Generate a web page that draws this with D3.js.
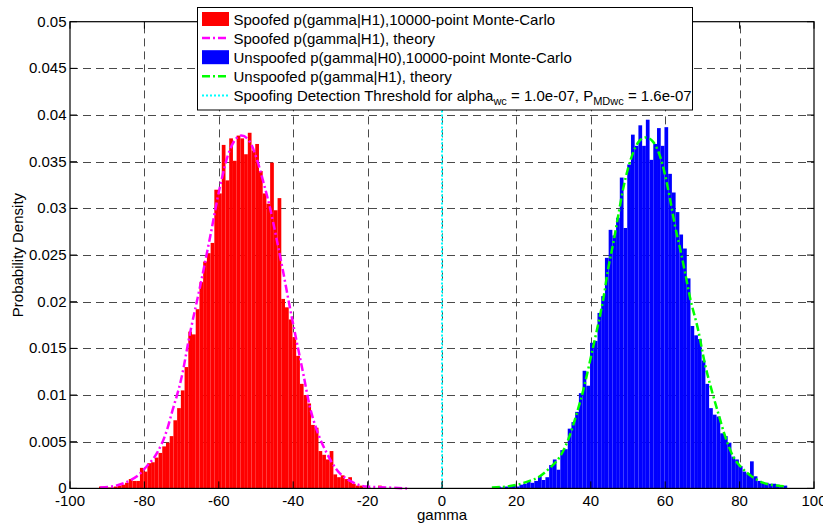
<!DOCTYPE html>
<html>
<head>
<meta charset="utf-8">
<script src="https://cdn.jsdelivr.net/npm/d3@7/dist/d3.min.js"></script>
<style>
  body { margin: 0; background: #fff; }
  text { font-family: "Liberation Sans", Arial, Helvetica, sans-serif; }
</style>
</head>
<body>
<svg id="chart" width="823" height="525"></svg>
<script>
// ---- data ----
const xTicks = [-100, -80, -60, -40, -20, 0, 20, 40, 60, 80, 100];
const xTickLabels = ["-100", "-80", "-60", "-40", "-20", "0", "20", "40", "60", "80", "100"];
const yTicks = [0, 0.005, 0.01, 0.015, 0.02, 0.025, 0.03, 0.035, 0.04, 0.045, 0.05];
const yTickLabels = ["0", "0.005", "0.01", "0.015", "0.02", "0.025", "0.03", "0.035", "0.04", "0.045", "0.05"];

const binWidth = 1;

// spoofed (H1) Monte-Carlo histogram, bins of width 1 starting at spoofedStart
const spoofedStart = -92.2;
const spoofedHist = [
  0.0002, 0.0002, 0.0001, 0.0001, 0.0002, 0.0003, 0.0004, 0.0006, 0.0010, 0.0008,
  0.0008, 0.0022, 0.0018, 0.0027, 0.0028, 0.0033, 0.0038, 0.0045, 0.0049, 0.0056,
  0.0073, 0.0086, 0.0105, 0.0130, 0.0168, 0.0165, 0.0192, 0.0221, 0.0243, 0.0252,
  0.0263, 0.0320, 0.0316, 0.0368, 0.0330, 0.0375, 0.0351, 0.0378, 0.0375, 0.0358,
  0.0381, 0.0362, 0.0369, 0.0340, 0.0316, 0.0305, 0.0349, 0.0298, 0.0311, 0.0203,
  0.0194, 0.0181, 0.0162, 0.0142, 0.0112, 0.0100, 0.0091, 0.0068, 0.0065, 0.0040,
  0.0036, 0.0031, 0.0040, 0.0015, 0.0012, 0.0014, 0.0010, 0.0012, 0.0005, 0.0003,
  0.0003, 0.0001, 0.0001, 0, 0, 0.0003
];

// unspoofed (H0) Monte-Carlo histogram
const unspoofedStart = 13.8;
const unspoofedHist = [
  0.0001, 0.0002, 0.0001, 0.0002, 0.0002, 0.0003, 0.0002, 0.0004, 0.0005, 0.0007,
  0.0006, 0.0008, 0.0013, 0.0009, 0.0012, 0.0025, 0.0031, 0.0020, 0.0041, 0.0042,
  0.0064, 0.0071, 0.0082, 0.0102, 0.0126, 0.0110, 0.0156, 0.0158, 0.0188, 0.0206,
  0.0247, 0.0277, 0.0271, 0.0290, 0.0333, 0.0279, 0.0347, 0.0379, 0.0367, 0.0389,
  0.0367, 0.0395, 0.0352, 0.0369, 0.0386, 0.0367, 0.0387, 0.0337, 0.0317, 0.0296,
  0.0272, 0.0257, 0.0225, 0.0174, 0.0164, 0.0160, 0.0137, 0.0112, 0.0086, 0.0079,
  0.0077, 0.0059, 0.0056, 0.0049, 0.0034, 0.0031, 0.0024, 0.0018, 0.0016, 0.0029,
  0.0013, 0.0008, 0.0006, 0.0006, 0.0005, 0.0005, 0.0004, 0.0003, 0.0003
];

// theory curves
const spoofedTheoryX = [-91.9, -88.2, -84.7, -82.0, -79.3, -76.6, -73.9, -72.7, -70.0, -67.8,
  -65.1, -62.4, -59.7, -57.0, -53.9, -51.6, -49.8, -48.0, -46.2, -44.5, -42.7, -40.9,
  -39.1, -37.3, -35.5, -33.7, -31.0, -28.3, -24.7, -20.2, -14.8, -9.4];
const spoofedTheoryY = [0.0001, 0.00025, 0.0007, 0.0013, 0.0024, 0.0038, 0.0063, 0.0080, 0.0119, 0.0165,
  0.0215, 0.0268, 0.0323, 0.0363, 0.0378, 0.0371, 0.0353, 0.0328, 0.0300, 0.0268, 0.0232, 0.0194,
  0.0158, 0.0123, 0.0087, 0.0063, 0.0038, 0.0020, 0.0008, 0.0002, 0.0001, 0.0000];

const unspoofedTheoryX = [13.4, 18.3, 22.8, 26.3, 29.0, 31.7, 33.9, 36.2, 38.4, 40.2, 41.6,
  43.4, 44.7, 46.1, 47.4, 48.7, 50.1, 51.4, 52.8, 54.8, 56.8, 58.6, 59.9, 61.3, 62.6,
  64.0, 65.3, 66.7, 68.9, 70.7, 72.5, 74.3, 76.1, 78.3, 80.6, 83.2, 86.4, 90.0, 92.7];
const unspoofedTheoryY = [0.0001, 0.00025, 0.0007, 0.0013, 0.0022, 0.0034, 0.0052, 0.0080, 0.0112, 0.0144, 0.0169,
  0.0204, 0.0236, 0.0264, 0.0293, 0.0321, 0.0344, 0.0360, 0.0371, 0.0376, 0.0371, 0.0356, 0.0337, 0.0310, 0.0282,
  0.0257, 0.0232, 0.0204, 0.0169, 0.0133, 0.0105, 0.0080, 0.0056, 0.0034, 0.0022, 0.0013, 0.0006, 0.0003, 0.0002];

const threshold = 0;

const legendLabels = [
  "Spoofed p(gamma|H1),10000-point Monte-Carlo",
  "Spoofed p(gamma|H1), theory",
  "Unspoofed p(gamma|H0),10000-point Monte-Carlo",
  "Unspoofed p(gamma|H1), theory",
  "Spoofing Detection Threshold for alpha"
];

// ---- layout ----
const plot = {left: 70, right: 814, top: 21.7, bottom: 488.4};
const svg = d3.select("#chart");
const x = d3.scaleLinear().domain([-100, 100]).range([plot.left, plot.right]);
const y = d3.scaleLinear().domain([0, 0.05]).range([plot.bottom, plot.top]);

// grid
const grid = svg.append("g").attr("class", "grid")
  .attr("stroke", "#4a4a4a").attr("stroke-width", 1).attr("stroke-dasharray", "8,5");
grid.selectAll("line.gx")
  .data(xTicks.slice(1, -1))
  .enter().append("line")
  .attr("class", "gx")
  .attr("x1", d => Math.round(x(d)) + 0.5).attr("x2", d => Math.round(x(d)) + 0.5)
  .attr("y1", plot.bottom).attr("y2", plot.top);
grid.selectAll("line.gy")
  .data(yTicks.slice(1, -1))
  .enter().append("line")
  .attr("class", "gy")
  .attr("y1", d => Math.round(y(d)) + 0.5).attr("y2", d => Math.round(y(d)) + 0.5)
  .attr("x1", plot.left).attr("x2", plot.right);

// histograms
function drawHist(values, start, color) {
  svg.append("g").selectAll("rect")
    .data(values.map((v, i) => ({x0: start + i * binWidth, v: v})).filter(d => d.v > 0))
    .enter().append("rect")
    .attr("x", d => x(d.x0))
    .attr("width", x(binWidth) - x(0))
    .attr("y", d => y(d.v))
    .attr("height", d => y(0) - y(d.v))
    .attr("fill", color);
}
drawHist(spoofedHist, spoofedStart, "#ff0000");
drawHist(unspoofedHist, unspoofedStart, "#0000ff");

// theory curves
const line = d3.line().x(d => x(d[0])).y(d => y(d[1])).curve(d3.curveMonotoneX);
svg.append("path")
  .attr("d", line(d3.zip(spoofedTheoryX, spoofedTheoryY)))
  .attr("fill", "none").attr("stroke", "#ff00ff").attr("stroke-width", 2.5)
  .attr("stroke-dasharray", "8,3,2,3");
svg.append("path")
  .attr("d", line(d3.zip(unspoofedTheoryX, unspoofedTheoryY)))
  .attr("fill", "none").attr("stroke", "#00ff00").attr("stroke-width", 2.5)
  .attr("stroke-dasharray", "8,3,2,3");

// detection threshold
svg.append("line")
  .attr("x1", x(threshold)).attr("x2", x(threshold))
  .attr("y1", y(0)).attr("y2", y(0.05))
  .attr("stroke", "#00ffff").attr("stroke-width", 2).attr("stroke-dasharray", "2,2");

// axes box + inward ticks
svg.append("rect")
  .attr("x", plot.left).attr("y", plot.top)
  .attr("width", plot.right - plot.left).attr("height", plot.bottom - plot.top)
  .attr("fill", "none").attr("stroke", "#000").attr("stroke-width", 1.2);

const tickLen = 7;
const ticks = svg.append("g").attr("stroke", "#000").attr("stroke-width", 1);
xTicks.forEach(t => {
  ticks.append("line").attr("x1", x(t)).attr("x2", x(t)).attr("y1", plot.bottom).attr("y2", plot.bottom - tickLen);
  ticks.append("line").attr("x1", x(t)).attr("x2", x(t)).attr("y1", plot.top).attr("y2", plot.top + tickLen);
});
yTicks.forEach(t => {
  ticks.append("line").attr("y1", y(t)).attr("y2", y(t)).attr("x1", plot.left).attr("x2", plot.left + tickLen);
  ticks.append("line").attr("y1", y(t)).attr("y2", y(t)).attr("x1", plot.right).attr("x2", plot.right - tickLen);
});

// tick labels
svg.append("g").selectAll("text")
  .data(xTicks)
  .enter().append("text")
  .attr("x", d => x(d)).attr("y", 505.5)
  .attr("text-anchor", "middle").attr("font-size", 15)
  .text((d, i) => xTickLabels[i]);
svg.append("g").selectAll("text")
  .data(yTicks)
  .enter().append("text")
  .attr("x", 66.5).attr("y", d => y(d) + 5)
  .attr("text-anchor", "end").attr("font-size", 15)
  .text((d, i) => yTickLabels[i]);

// axis labels
svg.append("text")
  .attr("x", x(0)).attr("y", 519.5)
  .attr("text-anchor", "middle").attr("font-size", 15)
  .text("gamma");
svg.append("text")
  .attr("transform", "translate(22.5," + ((plot.top + plot.bottom) / 2) + ") rotate(-90)")
  .attr("text-anchor", "middle").attr("font-size", 15)
  .text("Probability Density");

// legend
const legend = svg.append("g").attr("class", "legend");
legend.append("rect")
  .attr("x", 197.5).attr("y", 7.5).attr("width", 495).attr("height", 102.5)
  .attr("fill", "#fff").attr("stroke", "#000").attr("stroke-width", 1);

const rowY = i => 19 + i * 19.1;
const swatchX0 = 202, swatchX1 = 229, textX = 233.5;

legend.append("rect").attr("x", swatchX0).attr("y", rowY(0) - 7).attr("width", swatchX1 - swatchX0).attr("height", 14).attr("fill", "#ff0000");
legend.append("rect").attr("x", swatchX0).attr("y", rowY(2) - 7).attr("width", swatchX1 - swatchX0).attr("height", 14).attr("fill", "#0000ff");
legend.append("line").attr("x1", swatchX0).attr("x2", swatchX1).attr("y1", rowY(1)).attr("y2", rowY(1))
  .attr("stroke", "#ff00ff").attr("stroke-width", 2.5).attr("stroke-dasharray", "8,3,2,3");
legend.append("line").attr("x1", swatchX0).attr("x2", swatchX1).attr("y1", rowY(3)).attr("y2", rowY(3))
  .attr("stroke", "#00ff00").attr("stroke-width", 2.5).attr("stroke-dasharray", "8,3,2,3");
legend.append("line").attr("x1", swatchX0).attr("x2", swatchX1).attr("y1", rowY(4)).attr("y2", rowY(4))
  .attr("stroke", "#00ffff").attr("stroke-width", 2).attr("stroke-dasharray", "2,2");

legendLabels.slice(0, 4).forEach((s, i) => {
  legend.append("text").attr("x", textX).attr("y", rowY(i) + 5.5).attr("font-size", 15).text(s);
});
const last = legend.append("text").attr("x", textX).attr("y", rowY(4) + 5.5).attr("font-size", 15);
last.append("tspan").text(legendLabels[4]);
last.append("tspan").attr("font-size", 11).attr("dy", 4).text("wc");
last.append("tspan").attr("dy", -4).text(" = 1.0e-07, P");
last.append("tspan").attr("font-size", 11).attr("dy", 4).text("MDwc");
last.append("tspan").attr("dy", -4).text(" = 1.6e-07");
</script>
</body>
</html>
